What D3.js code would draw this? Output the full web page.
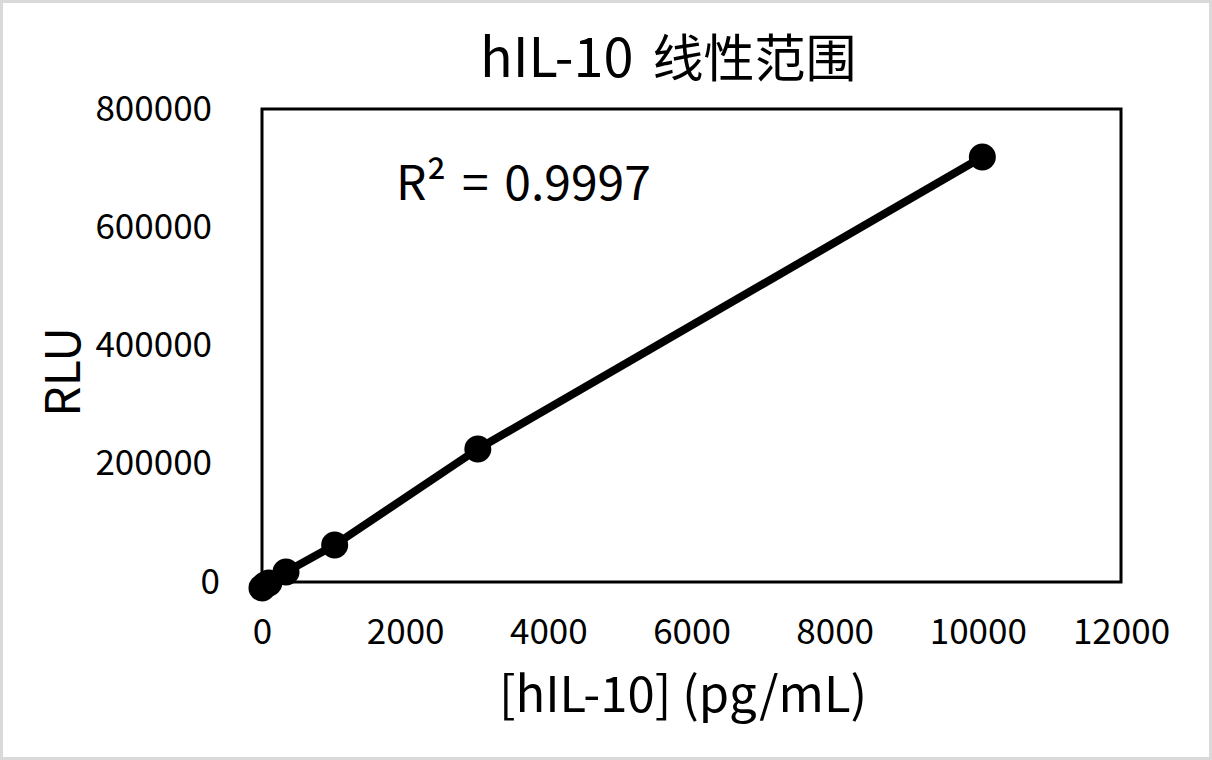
<!DOCTYPE html>
<html>
<head>
<meta charset="utf-8">
<script src="https://cdn.jsdelivr.net/npm/d3@7.9.0/dist/d3.min.js"></script>
<style>
  html, body { margin: 0; padding: 0; background: #fff; }
  svg { display: block; }
  text { font-family: "Noto Sans CJK SC", "Noto Sans", sans-serif; fill: #000; }
</style>
</head>
<body>
<svg id="chart" width="1212" height="760"></svg>
<script>
// values
const concentrations = [0, 40, 95, 335, 1015, 3015, 10063];   // pg/mL
const rluValues = [-10000, -5500, -1500, 17000, 62600, 224900, 718700];
const xTicks = [0, 2000, 4000, 6000, 8000, 10000, 12000];
const yTicks = [0, 200000, 400000, 600000, 800000];
const titleLatin = "hIL-10";
const titleCjk = "线性范围";
const xTitle = "[hIL-10] (pg/mL)";
const yTitle = "RLU";
const rSquared = "0.9997";

const data = concentrations.map((c, i) => ({ x: c, y: rluValues[i] }));

const width = 1212, height = 760;
const margin = { top: 109, right: 91, bottom: 178, left: 262 };

const svg = d3.select("#chart");

// light grey frame around the whole picture
svg.append("rect")
    .attr("x", 1.5).attr("y", 1.5)
    .attr("width", width - 3).attr("height", height - 3)
    .attr("fill", "#fff")
    .attr("stroke", "#d9d9d9")
    .attr("stroke-width", 3);

const x = d3.scaleLinear()
    .domain([0, 12000])
    .range([margin.left, width - margin.right]);

const y = d3.scaleLinear()
    .domain([0, 800000])
    .range([height - margin.bottom, margin.top]);

// plot box
svg.append("rect")
    .attr("x", x(0)).attr("y", y(800000))
    .attr("width", x(12000) - x(0))
    .attr("height", y(0) - y(800000))
    .attr("fill", "none")
    .attr("stroke", "#000")
    .attr("stroke-width", 3);

// axes (labels only, no tick marks)
const xAxis = svg.append("g")
    .attr("transform", `translate(0,${y(0)})`)
    .call(d3.axisBottom(x).tickValues(xTicks).tickSize(0).tickPadding(62).tickFormat(d3.format("d")));
xAxis.select(".domain").remove();
xAxis.selectAll("text").attr("font-size", 35).attr("font-family", null).attr("fill", "#000").attr("dy", "0");

const yAxis = svg.append("g")
    .attr("transform", `translate(${x(0)},0)`)
    .call(d3.axisLeft(y).tickValues(yTicks).tickSize(0).tickPadding(50).tickFormat(d3.format("d")));
yAxis.select(".domain").remove();
yAxis.selectAll("text").attr("font-size", 35).attr("font-family", null).attr("fill", "#000").attr("dy", "0.32em");
// the zero label sits a bit further right in the original
yAxis.selectAll(".tick").filter(d => d === 0).select("text").attr("x", -42);

// connecting line
const line = d3.line().x(d => x(d.x)).y(d => y(d.y));
svg.append("path")
    .datum(data)
    .attr("d", line)
    .attr("fill", "none")
    .attr("stroke", "#000")
    .attr("stroke-width", 8)
    .attr("stroke-linejoin", "round");

// markers
svg.selectAll(".pt")
    .data(data)
    .enter().append("circle")
    .attr("class", "pt")
    .attr("cx", d => x(d.x))
    .attr("cy", d => y(d.y))
    .attr("r", 13.5)
    .attr("fill", "#000");

// titles
const title = svg.append("text")
    .attr("x", 480).attr("y", 77)
    .attr("font-size", 54);
title.append("tspan").text(titleLatin + " ");
title.append("tspan").attr("dx", 7).attr("font-size", 51).text(titleCjk);

svg.append("text")
    .attr("x", 683).attr("y", 712)
    .attr("text-anchor", "middle")
    .attr("font-size", 49)
    .text(xTitle);

svg.append("text")
    .attr("transform", "translate(80,372) rotate(-90)")
    .attr("text-anchor", "middle")
    .attr("font-size", 48)
    .text(yTitle);

// R² annotation
svg.append("text")
    .attr("x", 396).attr("y", 200)
    .attr("font-size", 48)
    .attr("word-spacing", 5)
    .text("R² = " + rSquared);
</script>
</body>
</html>
